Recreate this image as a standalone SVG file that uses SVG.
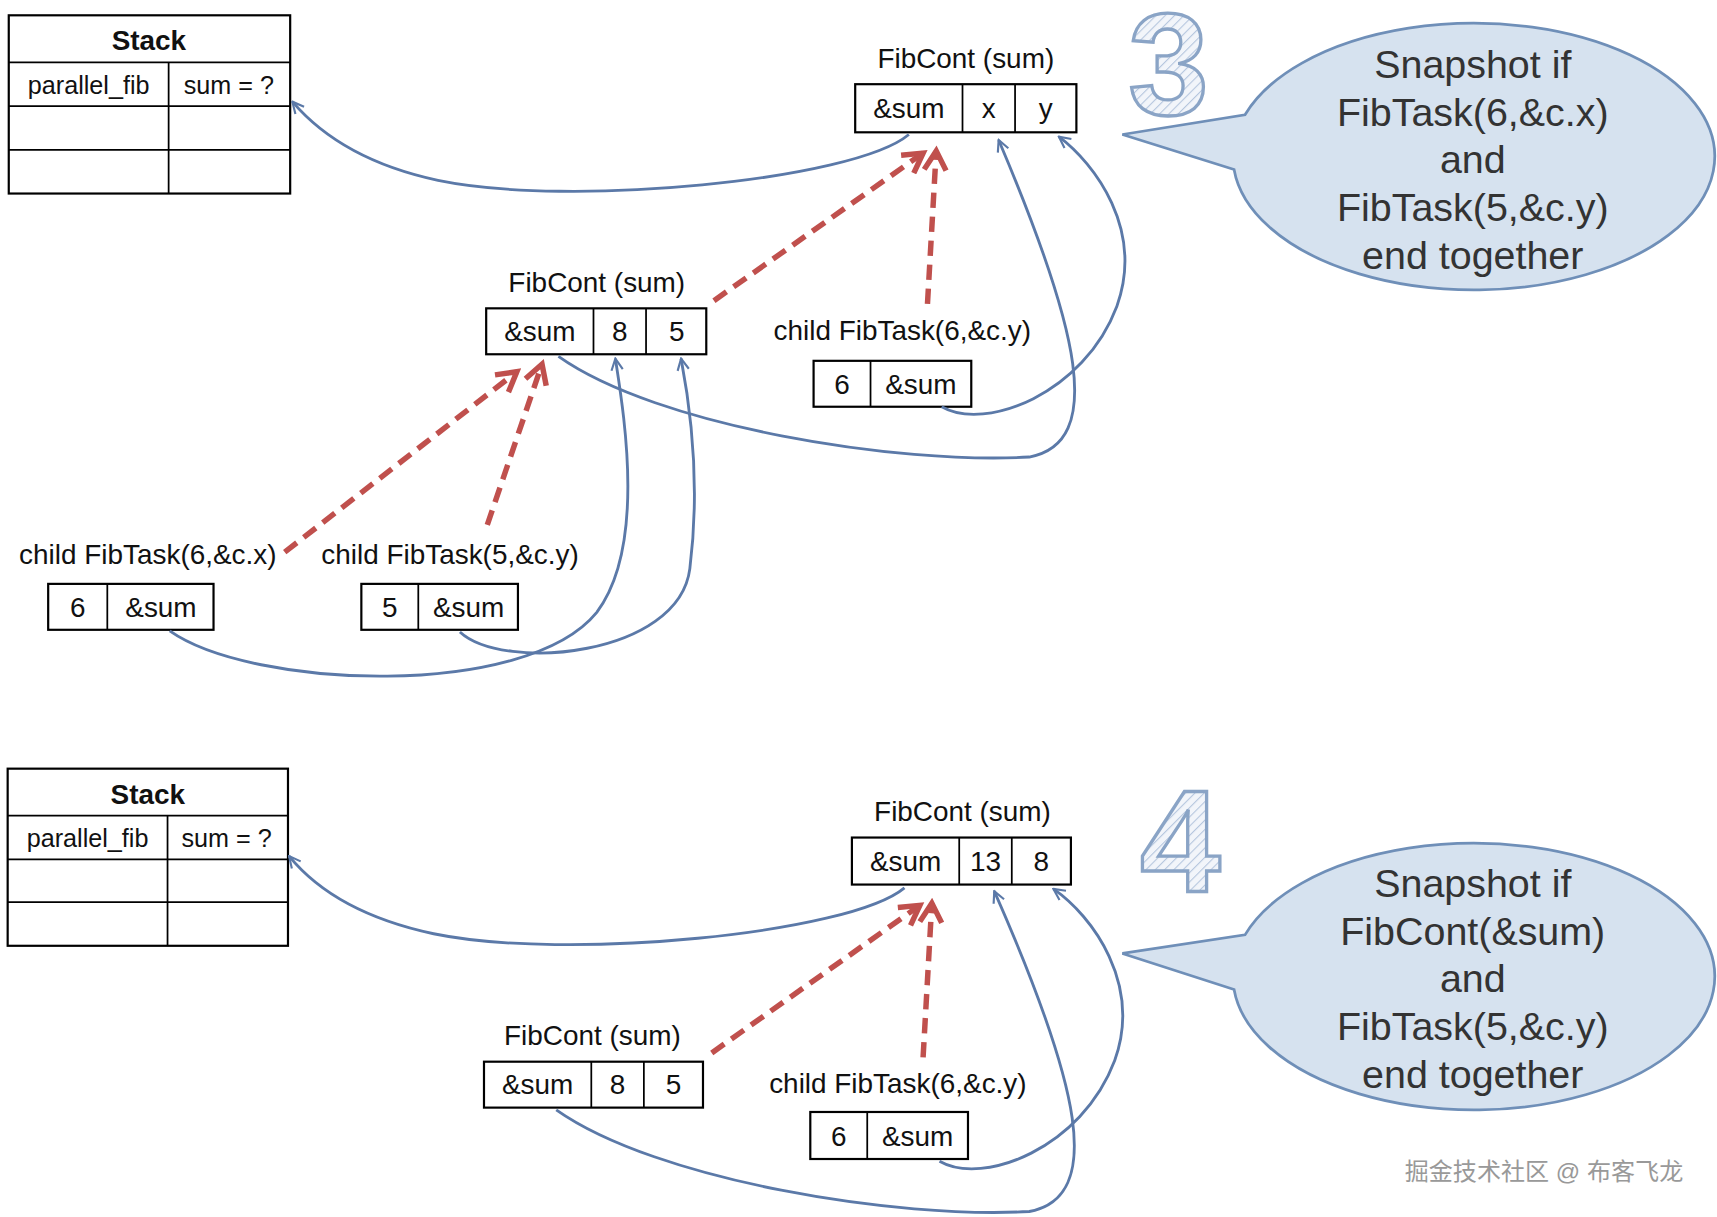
<svg xmlns="http://www.w3.org/2000/svg" width="1717" height="1217" viewBox="0 0 1717 1217">
<style>
.b{fill:#fff;stroke:#000;stroke-width:2}
.l{stroke:#000;stroke-width:1.6}
.t{font-family:"Liberation Sans",Arial,sans-serif;font-size:25.5px;fill:#111;text-anchor:middle}
.h{font-weight:bold}
.c{fill:none;stroke:#5b79a8;stroke-width:2.6;marker-end:url(#ab)}
.r{fill:none;stroke:#c0504d;stroke-width:5;stroke-dasharray:14 8;marker-end:url(#ar)}
.bub{fill:#d6e2ef;stroke:#6f8fb8;stroke-width:2.5}
.bt{font-family:"Liberation Sans",Arial,sans-serif;font-size:36px;fill:#333;text-anchor:middle}
.big{font-family:"Liberation Sans",Arial,sans-serif;font-weight:bold;font-size:132px;fill:url(#hatch);stroke:#8aa4c6;stroke-width:3;text-anchor:middle}
</style>
<defs>
<marker id="ab" viewBox="0 0 10 10" refX="9" refY="5" markerWidth="5" markerHeight="5" orient="auto" markerUnits="strokeWidth"><path d="M1,1 L9,5 L1,9" fill="none" stroke="#5b79a8" stroke-width="1.5"/></marker>
<marker id="ar" viewBox="0 0 10 10" refX="8" refY="5" markerWidth="5" markerHeight="5" orient="auto" markerUnits="strokeWidth"><path d="M1,1 L8,5 L1,9" fill="none" stroke="#c0504d" stroke-width="2"/></marker>
<pattern id="hatch" width="6" height="6" patternUnits="userSpaceOnUse" patternTransform="rotate(45)"><rect width="6" height="6" fill="#f2f5fa"/><line x1="0" y1="0" x2="0" y2="6" stroke="#b5c6de" stroke-width="2"/></pattern>
</defs>
<g transform="scale(1.095,1.0934)">
<g id="stack3">
<rect class="b" x="8" y="14" width="257" height="163"/>
<line class="l" x1="8" y1="57" x2="265" y2="57"/><line class="l" x1="8" y1="97" x2="265" y2="97"/><line class="l" x1="8" y1="137" x2="265" y2="137"/><line class="l" x1="154" y1="57" x2="154" y2="177"/>
<text class="t h" x="136" y="46">Stack</text>
<text class="t" x="81" y="86" style="font-size:23px">parallel_fib</text><text class="t" x="209" y="86" style="font-size:23px">sum = ?</text>
</g>
<g id="fibcont3top">
<text class="t" x="882" y="62">FibCont (sum)</text>
<rect class="b" x="781" y="77" width="202" height="44"/><line class="l" x1="879" y1="77" x2="879" y2="121"/><line class="l" x1="927" y1="77" x2="927" y2="121"/>
<text class="t" x="830" y="108">&amp;sum</text><text class="t" x="903" y="108">x</text><text class="t" x="955" y="108">y</text>
</g>
<g id="fibcont3mid">
<text class="t" x="545" y="267">FibCont (sum)</text>
<rect class="b" x="444" y="282" width="201" height="42"/><line class="l" x1="542" y1="282" x2="542" y2="324"/><line class="l" x1="590" y1="282" x2="590" y2="324"/>
<text class="t" x="493" y="312">&amp;sum</text><text class="t" x="566" y="312">8</text><text class="t" x="618" y="312">5</text>
</g>
<g id="task3cy">
<text class="t" x="824" y="311">child FibTask(6,&amp;c.y)</text>
<rect class="b" x="743" y="330" width="144" height="42"/><line class="l" x1="795" y1="330" x2="795" y2="372"/>
<text class="t" x="769" y="360">6</text><text class="t" x="841" y="360">&amp;sum</text>
</g>
<g id="task3cx">
<text class="t" x="135" y="516">child FibTask(6,&amp;c.x)</text>
<rect class="b" x="44" y="534" width="151" height="42"/><line class="l" x1="98" y1="534" x2="98" y2="576"/>
<text class="t" x="71" y="564">6</text><text class="t" x="147" y="564">&amp;sum</text>
</g>
<g id="task3c5">
<text class="t" x="411" y="516">child FibTask(5,&amp;c.y)</text>
<rect class="b" x="330" y="534" width="143" height="42"/><line class="l" x1="382" y1="534" x2="382" y2="576"/>
<text class="t" x="356" y="564">5</text><text class="t" x="428" y="564">&amp;sum</text>
</g>
<g id="note3">
<text class="big" x="1067" y="104">3</text>
<path class="bub" d="M1137,105 A220,122 0 1 1 1127,155 L1025,123 Z"/>
<text class="bt" x="1345" y="71">Snapshot if</text>
<text class="bt" x="1345" y="115">FibTask(6,&amp;c.x)</text>
<text class="bt" x="1345" y="158">and</text>
<text class="bt" x="1345" y="202">FibTask(5,&amp;c.y)</text>
<text class="bt" x="1345" y="246">end together</text>
</g>
<g id="stack4">
<rect class="b" x="7" y="703" width="256" height="162"/>
<line class="l" x1="7" y1="746" x2="263" y2="746"/><line class="l" x1="7" y1="786" x2="263" y2="786"/><line class="l" x1="7" y1="825" x2="263" y2="825"/><line class="l" x1="153" y1="746" x2="153" y2="865"/>
<text class="t h" x="135" y="735">Stack</text>
<text class="t" x="80" y="775" style="font-size:23px">parallel_fib</text><text class="t" x="207" y="775" style="font-size:23px">sum = ?</text>
</g>
<g id="fibcont4top">
<text class="t" x="879" y="751">FibCont (sum)</text>
<rect class="b" x="778" y="766" width="200" height="43"/><line class="l" x1="876" y1="766" x2="876" y2="809"/><line class="l" x1="924" y1="766" x2="924" y2="809"/>
<text class="t" x="827" y="797">&amp;sum</text><text class="t" x="900" y="797">13</text><text class="t" x="951" y="797">8</text>
</g>
<g id="fibcont4mid">
<text class="t" x="541" y="956">FibCont (sum)</text>
<rect class="b" x="442" y="971" width="200" height="42"/><line class="l" x1="540" y1="971" x2="540" y2="1013"/><line class="l" x1="588" y1="971" x2="588" y2="1013"/>
<text class="t" x="491" y="1001">&amp;sum</text><text class="t" x="564" y="1001">8</text><text class="t" x="615" y="1001">5</text>
</g>
<g id="task4cy">
<text class="t" x="820" y="1000">child FibTask(6,&amp;c.y)</text>
<rect class="b" x="740" y="1017" width="144" height="43"/><line class="l" x1="792" y1="1017" x2="792" y2="1060"/>
<text class="t" x="766" y="1048">6</text><text class="t" x="838" y="1048">&amp;sum</text>
</g>
<g id="note4">
<text class="big" x="1078" y="815">4</text>
<path class="bub" d="M1137,855 A220,122 0 1 1 1127,905 L1025,872 Z"/>
<text class="bt" x="1345" y="820">Snapshot if</text>
<text class="bt" x="1345" y="864">FibCont(&amp;sum)</text>
<text class="bt" x="1345" y="907">and</text>
<text class="bt" x="1345" y="951">FibTask(5,&amp;c.y)</text>
<text class="bt" x="1345" y="995">end together</text>
</g>
<g id="connectors">
<path class="c" d="M830,123 C780,165 520,190 400,165 C330,150 290,120 267,93"/>
<path class="c" d="M510,326 C600,390 820,425 940,418 C1010,405 985,300 912,128"/>
<path class="c" d="M860,372 C900,395 990,360 1020,280 C1045,210 1000,150 967,125"/>
<path class="c" d="M155,577 C230,630 480,640 545,560 C590,500 570,380 562,328"/>
<path class="c" d="M420,578 C460,615 620,600 630,520 C640,440 630,370 622,328"/>
<path class="r" d="M260,505 L472,340"/>
<path class="r" d="M445,480 L495,333"/>
<path class="r" d="M652,275 L843,140"/>
<path class="r" d="M847,278 L855,138"/>
<path class="c" d="M826,812 C776,854 516,879 396,854 C326,839 286,810 264,783"/>
<path class="c" d="M508,1015 C600,1080 820,1115 940,1108 C1010,1095 985,990 908,815"/>
<path class="c" d="M858,1062 C898,1085 988,1050 1018,970 C1043,900 998,838 962,813"/>
<path class="r" d="M650,963 L840,828"/>
<path class="r" d="M843,967 L851,826"/>
</g>
<text x="1410" y="1079" style="font-family:'Liberation Sans','Noto Sans CJK SC',sans-serif;font-size:22px;fill:#999;text-anchor:middle">掘金技术社区 @ 布客飞龙</text>
</g>
</svg>
